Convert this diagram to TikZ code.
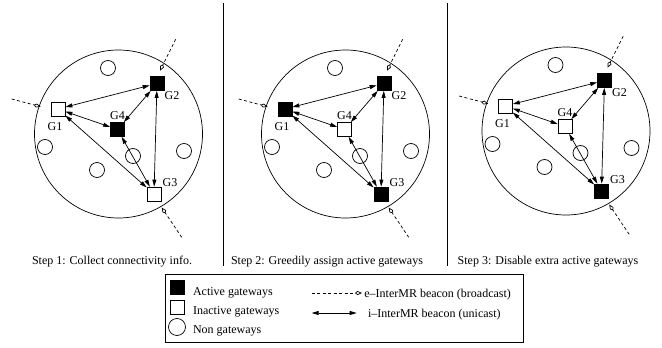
\documentclass[tikz,border=0pt]{standalone}
\usepackage{fontspec}
\setmainfont{Liberation Serif}
\usetikzlibrary{arrows.meta,positioning}

\tikzset{
  gwon/.style={draw, fill=black, minimum size=14pt, inner sep=0pt},
  gwoff/.style={draw, fill=white, minimum size=14pt, inner sep=0pt},
  nongw/.style={draw, circle, minimum size=15pt, inner sep=0pt},
  meshnet/.style={draw, circle, minimum size=168pt, inner sep=0pt},
  gwname/.style={inner sep=0pt},
  link/.style={<->, >={Triangle[length=7pt,width=4pt]}},
  beacon/.style={dash pattern=on 3pt off 2.5pt,
    arrows={-Kite[open,length=7pt,width=4pt,inset=2.5pt]}},
  caption/.style={anchor=base, inner sep=0pt},
  legtext/.style={anchor=base west, inner sep=0pt}
}

% one step of the selection: prefix, shift, looks of G1..G4
\newcommand{\gwpanel}[6]{%
  \begin{scope}[shift={#2}]
    \node[meshnet] (#1net) at (118.5,134) {};
    \foreach \cx/\cy [count=\ci] in {108/68,45/147,97/170,133/156,184/151}
      \node[nongw] (#1n\ci) at (\cx,\cy) {};
    \node[#3] (#1G1) at (58,109) {};
    \node[#4] (#1G2) at (157,83.5) {};
    \node[#5] (#1G3) at (154,194) {};
    \node[#6] (#1G4) at (117.5,129.5) {};
    \node[gwname] (#1l1) at (55,127) {G1};
    \node[gwname] (#1l2) at (172,96) {G2};
    \node[gwname] (#1l3) at (170,183) {G3};
    \node[gwname] (#1l4) at (117.5,116) {G4};
    % e-InterMR beacons coming in
    \coordinate (#1o1) at (11.7,99);     \coordinate (#1t1) at (40.7,106.7);
    \coordinate (#1o2) at (175.7,39.3);  \coordinate (#1t2) at (160,70.7);
    \coordinate (#1o3) at (181.7,237.3); \coordinate (#1t3) at (161.7,207.5);
    \draw[beacon] (#1o1) -- (#1t1);
    \draw[beacon] (#1o2) -- (#1t2);
    \draw[beacon] (#1o3) -- (#1t3);
    \path[link]
      (#1G1) edge (#1G2)
      (#1G1) edge (#1G4)
      (#1G1) edge (#1G3)
      (#1G2) edge (#1G4)
      (#1G2) edge (#1G3)
      (#1G4) edge (#1G3);
  \end{scope}}

\begin{document}
\begin{tikzpicture}[x=1pt, y=-1pt, line width=0.7pt,
    font=\fontsize{12}{14}\selectfont]
  \useasboundingbox (0,0) rectangle (662,348);

  \gwpanel{a}{(0,0)}{gwoff}{gwon}{gwoff}{gwon}
  \gwpanel{b}{(227,0)}{gwon}{gwon}{gwon}{gwoff}
  \gwpanel{c}{(447.5,-3)}{gwoff}{gwon}{gwon}{gwoff}

  % separators
  \coordinate (s1top) at (223.5,3);  \coordinate (s1bot) at (223.5,266);
  \coordinate (s2top) at (447,3);    \coordinate (s2bot) at (447,266);
  \draw (s1top) -- (s1bot);
  \draw (s2top) -- (s2bot);

  \node[caption] (cap1) at (112,264) {Step 1: Collect connectivity info.};
  \node[caption] (cap2) at (327,264) {Step 2: Greedily assign active gateways};
  \node[caption] (cap3) at (548,264) {Step 3: Disable extra active gateways};

  % legend
  \node[draw, minimum width=358pt, minimum height=68pt, inner sep=0pt]
    (legend) at (344,308) {};
  \node[gwon] (lgon) at (177,287) {};
  \node[gwoff] (lgoff) at (177,307) {};
  \node[nongw, minimum size=17pt] (lgnon) at (177,327) {};
  \node[legtext] (lgontxt) at (192.7,295) {Active gateways};
  \node[legtext] (lgofftxt) at (192.7,314) {Inactive gateways};
  \node[legtext] (lgnontxt) at (192.7,333) {Non gateways};
  \coordinate (lgbs) at (311.7,293); \coordinate (lgbe) at (362,293);
  \draw[beacon] (lgbs) -- (lgbe);
  \node[legtext] (lgbtxt) at (364,297) {e--InterMR beacon (broadcast)};
  \coordinate (lgls) at (311.7,313); \coordinate (lgle) at (356.7,313);
  \draw[link] (lgls) -- (lgle);
  \node[legtext] (lgltxt) at (367.7,317) {i--InterMR beacon (unicast)};
\end{tikzpicture}
\end{document}
